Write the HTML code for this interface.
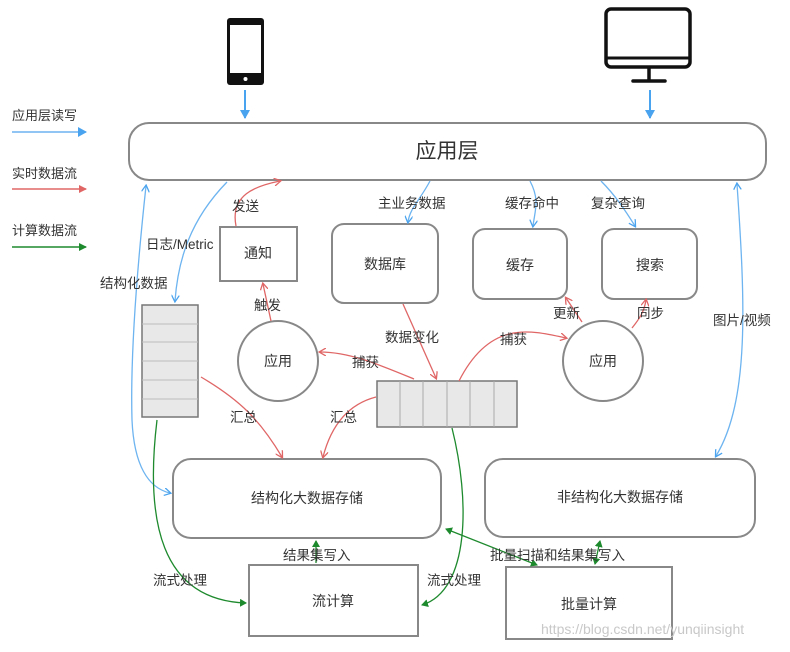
<!DOCTYPE html>
<html><head><meta charset="utf-8"><style>
html,body{margin:0;padding:0;background:#fff;}
svg text{font-family:"Liberation Sans","Noto Sans CJK SC",sans-serif;fill:#333;}
</style></head><body>
<svg width="790" height="647" viewBox="0 0 790 647" xmlns="http://www.w3.org/2000/svg">
<defs>
<marker id="b" markerWidth="8" markerHeight="8" refX="6" refY="4" orient="auto" markerUnits="userSpaceOnUse"><path d="M0,0 L7,4 L0,8" fill="none" stroke="#4aa3ee" stroke-width="1.3"/></marker>
<marker id="bs" markerWidth="8" markerHeight="8" refX="2" refY="4" orient="auto" markerUnits="userSpaceOnUse"><path d="M8,0 L1,4 L8,8" fill="none" stroke="#4aa3ee" stroke-width="1.3"/></marker>
<marker id="bf" markerWidth="10" markerHeight="10" refX="8" refY="5" orient="auto" markerUnits="userSpaceOnUse"><path d="M0,0 L9,5 L0,10 z" fill="#4aa3ee"/></marker>
<marker id="r" markerWidth="8" markerHeight="8" refX="6" refY="4" orient="auto" markerUnits="userSpaceOnUse"><path d="M0,0 L7,4 L0,8" fill="none" stroke="#e06666" stroke-width="1.3"/></marker>
<marker id="g" markerWidth="8" markerHeight="8" refX="6" refY="4" orient="auto" markerUnits="userSpaceOnUse"><path d="M0,0 L7,4 L0,8 z" fill="#1e8a2e"/></marker>
<marker id="gs" markerWidth="8" markerHeight="8" refX="2" refY="4" orient="auto" markerUnits="userSpaceOnUse"><path d="M8,0 L1,4 L8,8 z" fill="#1e8a2e"/></marker>
</defs>
<rect x="227" y="18" width="37" height="67" rx="3" fill="#111"/>
<rect x="230" y="25" width="31" height="48" fill="#fff"/>
<circle cx="245.5" cy="79" r="2" fill="#fff"/>
<line x1="245" y1="90" x2="245" y2="118" stroke="#4aa3ee" stroke-width="2" marker-end="url(#bf)"/>
<rect x="606" y="9" width="84" height="58" rx="5" fill="none" stroke="#111" stroke-width="3.5"/>
<line x1="606" y1="58" x2="690" y2="58" stroke="#111" stroke-width="3"/>
<line x1="649" y1="67" x2="649" y2="80" stroke="#111" stroke-width="3.5"/>
<line x1="633" y1="81" x2="665" y2="81" stroke="#111" stroke-width="3.5" stroke-linecap="round"/>
<line x1="650" y1="90" x2="650" y2="118" stroke="#4aa3ee" stroke-width="2" marker-end="url(#bf)"/>
<text x="12" y="120" font-size="13">应用层读写</text>
<line x1="12" y1="132" x2="86" y2="132" stroke="#6db4f0" stroke-width="1.5" marker-end="url(#bf)"/>
<text x="12" y="178" font-size="13">实时数据流</text>
<line x1="12" y1="189" x2="86" y2="189" stroke="#e06666" stroke-width="1.5"/>
<path d="M79,185 L87,189 L79,193z" fill="#e06666"/>
<text x="12" y="235" font-size="13">计算数据流</text>
<line x1="12" y1="247" x2="86" y2="247" stroke="#1e8a2e" stroke-width="1.5"/>
<path d="M79,243 L87,247 L79,251z" fill="#1e8a2e"/>
<rect x="129" y="123" width="637" height="57" rx="20" fill="#fff" stroke="#888" stroke-width="2"/>
<text x="447" y="158" font-size="21" text-anchor="middle">应用层</text>
<rect x="220" y="227" width="77" height="54" fill="#fff" stroke="#888" stroke-width="2"/>
<text x="258" y="258" font-size="14" text-anchor="middle">通知</text>
<rect x="332" y="224" width="106" height="79" rx="12" fill="#fff" stroke="#888" stroke-width="2"/>
<text x="385" y="269" font-size="14" text-anchor="middle">数据库</text>
<rect x="473" y="229" width="94" height="70" rx="12" fill="#fff" stroke="#888" stroke-width="2"/>
<text x="520" y="270" font-size="14" text-anchor="middle">缓存</text>
<rect x="602" y="229" width="95" height="70" rx="12" fill="#fff" stroke="#888" stroke-width="2"/>
<text x="650" y="270" font-size="14" text-anchor="middle">搜索</text>
<circle cx="278" cy="361" r="40" fill="#fff" stroke="#888" stroke-width="2"/>
<text x="278" y="366" font-size="14" text-anchor="middle">应用</text>
<circle cx="603" cy="361" r="40" fill="#fff" stroke="#888" stroke-width="2"/>
<text x="603" y="366" font-size="14" text-anchor="middle">应用</text>
<rect x="142" y="305" width="56" height="112" fill="#e8e8e8" stroke="#777" stroke-width="1.5"/>
<g stroke="#bbb"><line x1="142" y1="324" x2="198" y2="324"/><line x1="142" y1="342" x2="198" y2="342"/><line x1="142" y1="361" x2="198" y2="361"/><line x1="142" y1="380" x2="198" y2="380"/><line x1="142" y1="399" x2="198" y2="399"/></g>
<rect x="377" y="381" width="140" height="46" fill="#e8e8e8" stroke="#777" stroke-width="1.5"/>
<g stroke="#aaa"><line x1="400" y1="381" x2="400" y2="427"/><line x1="423" y1="381" x2="423" y2="427"/><line x1="447" y1="381" x2="447" y2="427"/><line x1="470" y1="381" x2="470" y2="427"/><line x1="494" y1="381" x2="494" y2="427"/></g>
<rect x="173" y="459" width="268" height="79" rx="18" fill="#fff" stroke="#888" stroke-width="2"/>
<text x="307" y="503" font-size="14" text-anchor="middle">结构化大数据存储</text>
<rect x="485" y="459" width="270" height="78" rx="18" fill="#fff" stroke="#888" stroke-width="2"/>
<text x="620" y="502" font-size="14" text-anchor="middle">非结构化大数据存储</text>
<rect x="249" y="565" width="169" height="71" fill="#fff" stroke="#888" stroke-width="2"/>
<text x="333" y="606" font-size="14" text-anchor="middle">流计算</text>
<rect x="506" y="567" width="166" height="72" fill="#fff" stroke="#888" stroke-width="2"/>
<text x="589" y="609" font-size="14" text-anchor="middle">批量计算</text>
<g fill="none" stroke="#6db4f0" stroke-width="1.3">
<path d="M227,182 C190,220 178,260 175,301" marker-end="url(#b)"/>
<path d="M146,186 C138,260 130,350 132,420 C134,465 148,488 170,493" marker-start="url(#bs)" marker-end="url(#b)"/>
<path d="M430,181 C420,200 410,208 408,222" marker-end="url(#b)"/>
<path d="M530,181 C540,200 535,210 533,226" marker-end="url(#b)"/>
<path d="M601,181 C615,195 625,210 635,226" marker-end="url(#b)"/>
<path d="M737,184 C745,300 750,400 716,456" marker-start="url(#bs)" marker-end="url(#b)"/>
</g>
<g fill="none" stroke="#e06666" stroke-width="1.3">
<path d="M236,226 C230,195 255,186 280,181" marker-end="url(#r)"/>
<path d="M271,321 L263,284" marker-end="url(#r)"/>
<path d="M403,304 L436,378" marker-end="url(#r)"/>
<path d="M459,381 C490,320 530,330 566,338" marker-end="url(#r)"/>
<path d="M582,322 L566,298" marker-end="url(#r)"/>
<path d="M632,328 C640,318 644,312 646,300" marker-end="url(#r)"/>
<path d="M414,379 C380,365 350,352 320,352" marker-end="url(#r)"/>
<path d="M201,377 C240,400 260,420 282,457" marker-end="url(#r)"/>
<path d="M376,397 C345,405 330,430 323,457" marker-end="url(#r)"/>
</g>
<g fill="none" stroke="#1e8a2e" stroke-width="1.3">
<path d="M157,420 C145,520 160,600 246,603" marker-end="url(#g)"/>
<path d="M452,428 C470,500 470,590 422,605" marker-end="url(#g)"/>
<path d="M316,563 L316,541" marker-end="url(#g)"/>
<path d="M446,529 L537,565" marker-start="url(#gs)" marker-end="url(#g)"/>
<path d="M595,564 L600,541" marker-start="url(#gs)" marker-end="url(#g)"/>
</g>
<g font-size="13.5">
<text x="232" y="211">发送</text>
<text x="146" y="249">日志/Metric</text>
<text x="100" y="288">结构化数据</text>
<text x="254" y="310">触发</text>
<text x="378" y="208">主业务数据</text>
<text x="505" y="208">缓存命中</text>
<text x="591" y="208">复杂查询</text>
<text x="385" y="342">数据变化</text>
<text x="500" y="344">捕获</text>
<text x="553" y="318">更新</text>
<text x="637" y="318">同步</text>
<text x="713" y="325">图片/视频</text>
<text x="352" y="367">捕获</text>
<text x="230" y="422">汇总</text>
<text x="330" y="422">汇总</text>
<text x="283" y="560">结果集写入</text>
<text x="490" y="560">批量扫描和结果集写入</text>
<text x="153" y="585">流式处理</text>
<text x="427" y="585">流式处理</text>
</g>
<text x="541" y="634" font-size="14" style="fill:#c8c8c8">https://blog.csdn.net/yunqiinsight</text>
</svg>
</body></html>
